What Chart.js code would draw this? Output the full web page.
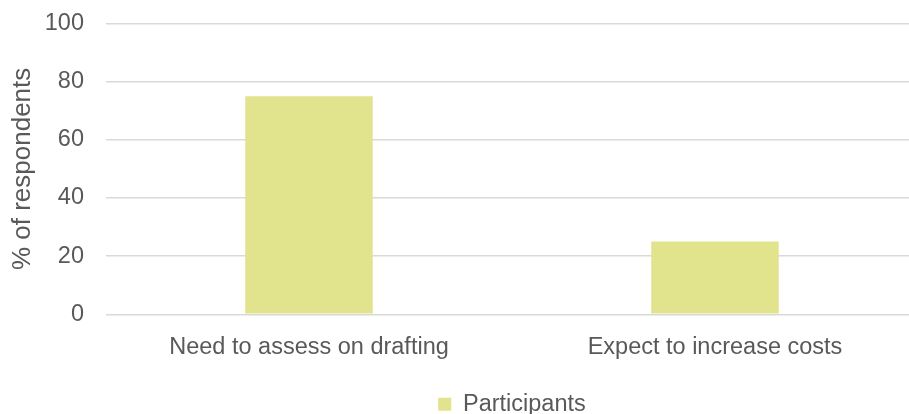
<!DOCTYPE html>
<html>
<head>
<meta charset="utf-8">
<script src="https://cdn.jsdelivr.net/npm/chart.js@4"></script>
<style>
  html, body { margin: 0; padding: 0; background: #fff; overflow: hidden; }
  #wrap { width: 918px; height: 414px; }
</style>
</head>
<body>
<div id="wrap"><canvas id="surveyChart"></canvas></div>
<script>
const categories = ['Need to assess on drafting', 'Expect to increase costs'];
const participants = [75, 25];
const yTicks = [0, 20, 40, 60, 80, 100];

const textColor = '#595959';
const fontFamily = '"Liberation Sans", Arial, sans-serif';
const fontSize = 23.5;

const ctx = document.getElementById('surveyChart').getContext('2d');
const chart = new Chart(ctx, {
    type: 'bar',
    data: {
        labels: categories,
        datasets: [{
            label: 'Participants',
            data: participants,
            backgroundColor: '#E2E38D',
            borderWidth: 0,
            categoryPercentage: 1,
            barPercentage: 0.314
        }]
    },
    options: {
        responsive: true,
        maintainAspectRatio: false,
        animation: false,
        layout: { padding: { top: 23.5, left: 7, right: 0, bottom: -12 } },
        scales: {
            x: {
                grid: { display: false },
                border: { display: false },
                ticks: {
                    color: textColor,
                    font: { family: fontFamily, size: fontSize },
                    padding: 11
                },
                afterFit: function(axis) {
                    axis.height += 10;
                }
            },
            y: {
                min: 0,
                max: 100,
                afterBuildTicks: function(axis) {
                    axis.ticks = yTicks.map(v => ({ value: v }));
                },
                afterFit: function(axis) {
                    axis.width = 99;
                },
                // invisible tick marks keep the gap between labels and gridlines
                grid: {
                    color: '#D9D9D9',
                    lineWidth: 1.5,
                    drawTicks: true,
                    tickLength: 22,
                    tickColor: 'rgba(0,0,0,0)'
                },
                border: { display: false },
                ticks: {
                    color: textColor,
                    font: { family: fontFamily, size: fontSize },
                    padding: 0
                },
                title: {
                    display: true,
                    text: '% of respondents',
                    color: textColor,
                    font: { family: fontFamily, size: 26 },
                    padding: { top: 0, bottom: 8 }
                }
            }
        },
        plugins: {
            legend: {
                position: 'bottom',
                fullSize: false,
                labels: {
                    color: textColor,
                    font: { family: fontFamily, size: fontSize },
                    boxWidth: 13,
                    boxHeight: 13,
                    padding: 10
                }
            },
            tooltip: { enabled: false }
        }
    }
});
</script>
</body>
</html>
